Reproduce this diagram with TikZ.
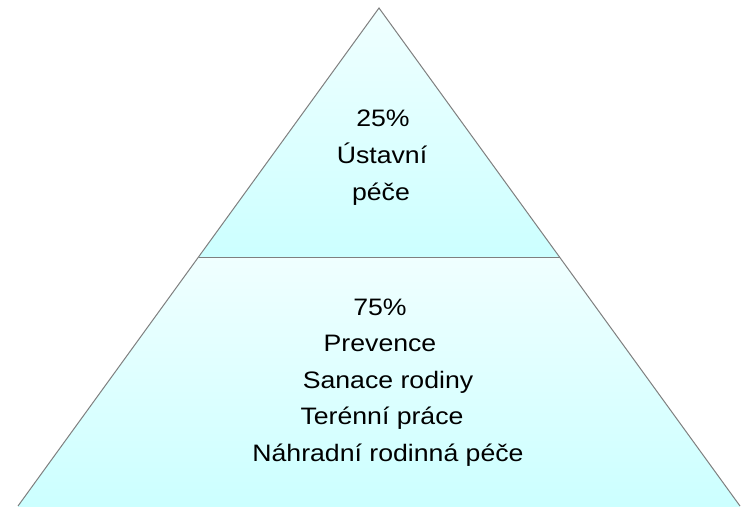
\documentclass[tikz,border=0pt]{standalone}
\usepackage{fontspec}
\setmainfont{Liberation Sans}
\definecolor{toplight}{HTML}{F0FFFF}
\definecolor{botcyan}{HTML}{CCFFFF}
\definecolor{edgegray}{HTML}{7F7F7F}
\newcommand{\widetxt}[1]{\scalebox{1.12}[1]{#1}}
\begin{document}
\begin{tikzpicture}[x=1pt,y=-1pt,
  lbl/.style={anchor=base,inner sep=0pt,font=\fontsize{23.8}{28}\selectfont,text=black},
  edge/.style={draw=edgegray,line width=1pt}]
\useasboundingbox (0,0) rectangle (745,507);
\coordinate (apex) at (379,8);
\coordinate (bl) at (18,506);
\coordinate (br) at (740,506);
\coordinate (ml) at (198.5,257);
\coordinate (mr) at (559.5,257);
% upper section
\shade[top color=toplight,bottom color=botcyan] (apex) -- (ml) -- (mr) -- cycle;
% lower section
\shade[top color=toplight,bottom color=botcyan] (ml) -- (bl) -- (br) -- (mr) -- cycle;
\draw[botcyan,line width=1pt] (bl) -- (br);
\draw[edge] (bl) -- (apex) -- (br);
\draw[edge] (ml) -- (mr);
% texts
\node[lbl] (t1) at (383,126) {\widetxt{25\%}};
\node[lbl] (t2) at (382,163) {\widetxt{Ústavní}};
\node[lbl] (t3) at (381,200) {\widetxt{péče}};
\node[lbl] (b1) at (380,315) {\widetxt{75\%}};
\node[lbl] (b2) at (380,351.5) {\widetxt{Prevence}};
\node[lbl] (b3) at (388,388) {\widetxt{Sanace rodiny}};
\node[lbl] (b4) at (382,424.5) {\widetxt{Terénní práce}};
\node[lbl] (b5) at (388,461) {\widetxt{Náhradní rodinná péče}};
\end{tikzpicture}
\end{document}
